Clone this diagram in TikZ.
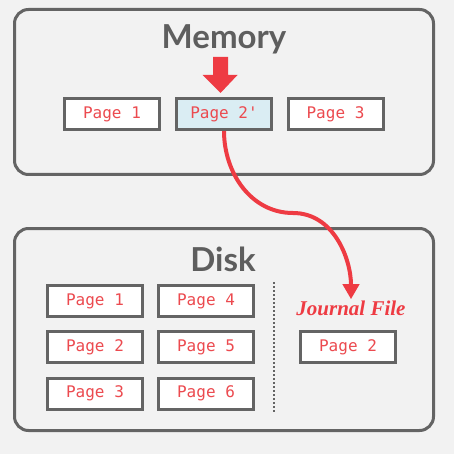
\documentclass[tikz,border=0pt]{standalone}
\usepackage{fontspec}
\setmainfont{Lato}
\newfontfamily\pagefont{DejaVu Sans Mono}
\newfontfamily\journalfont{Liberation Serif}
\usetikzlibrary{arrows.meta}
\definecolor{bg}{HTML}{F2F2F2}
\definecolor{frame}{HTML}{646464}
\definecolor{titlegray}{HTML}{5E5E5E}
\definecolor{accent}{HTML}{EE3B43}
\definecolor{pagetext}{HTML}{EC4A4F}
\definecolor{dirty}{HTML}{DAEDF3}
\begin{document}
\begin{tikzpicture}[x=1pt,y=-1pt,
  region/.style={draw=frame, line width=3pt, rounded corners=14pt},
  title/.style={font=\bfseries\fontsize{33}{36}\selectfont, text=titlegray, anchor=base, inner sep=0pt},
  pagebox/.style={draw=frame, line width=3pt, fill=white, minimum width=95pt, minimum height=31pt,
    inner sep=0pt, text=pagetext, font=\pagefont\fontsize{16}{18}\selectfont},
  curve/.style={draw=accent, line width=4pt, -{Triangle[width=16pt,length=15pt]}},
  sep/.style={draw=frame, line width=2pt, dash pattern=on 2pt off 2pt}
]
  % canvas
  \fill[bg] (0,0) rectangle (454,454);
  \useasboundingbox (0,0) rectangle (454,454);

  % memory region
  \draw[region] (14.5,9.5) rectangle (433.5,174.5);
  \node[title] (memtitle) at (224,49) {Memory};
  \node[pagebox] (m1) at (112,114) {Page 1};
  \node[pagebox, fill=dirty] (m2) at (224,114) {Page 2'};
  \node[pagebox] (m3) at (335.5,114) {Page 3};

  % write marker above the modified page
  \fill[accent] (213,57) -- (228,57) -- (228,75) -- (237.5,75) -- (220.5,93)
    -- (202.5,75) -- (213,75) -- cycle;

  % disk region
  \draw[region] (14.5,228.5) rectangle (433.5,430.5);
  \node[title] (disktitle) at (223,271) {Disk};
  \node[pagebox] (d1) at (95,301) {Page 1};
  \node[pagebox] (d2) at (95,347) {Page 2};
  \node[pagebox] (d3) at (95,393.5) {Page 3};
  \node[pagebox] (d4) at (206,301) {Page 4};
  \node[pagebox] (d5) at (206,347) {Page 5};
  \node[pagebox] (d6) at (206,393.5) {Page 6};
  \coordinate (septop) at (274,282);
  \coordinate (sepbot) at (274,413);
  \draw[sep] (septop) -- (sepbot);

  % journal
  \node[anchor=base, inner sep=1pt, text=accent,
    font=\journalfont\bfseries\itshape\fontsize{21}{24}\selectfont] (jf) at (351,315) {Journal File};
  \node[pagebox] (j2) at (348,347) {Page 2};

  % copy of the original page into the journal
  \coordinate (bend) at (293,213);
  \draw[curve] (m2.south) to[out=-90,in=180] (bend) to[out=0,in=90] (jf.north);
\end{tikzpicture}
\end{document}
